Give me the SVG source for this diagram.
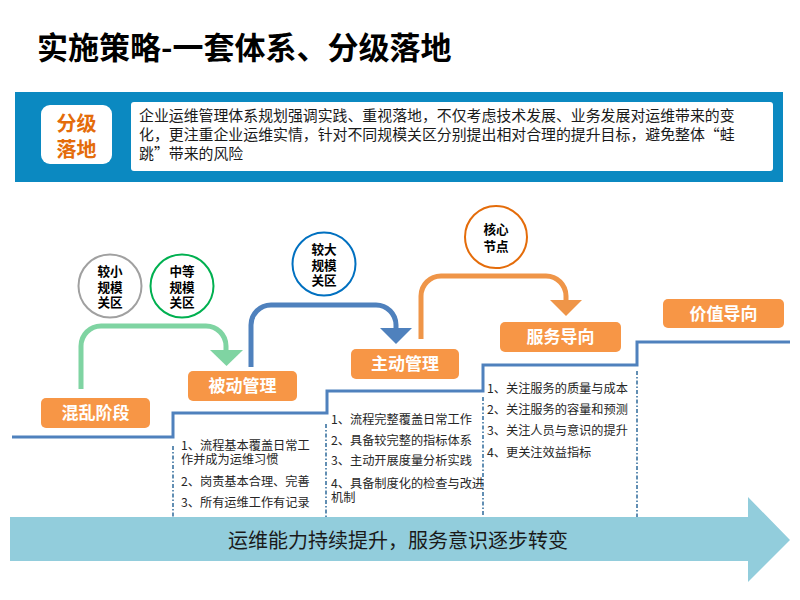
<svg xmlns="http://www.w3.org/2000/svg" width="800" height="600" viewBox="0 0 800 600">
<style>
text{font-family:"Noto Sans CJK SC","Microsoft YaHei",sans-serif}
.title{font-size:31px;font-weight:bold;fill:#000}
.desc{font-size:14.9px;fill:#1a1a1a}
.lbl{fill:#f79646}
.lt{font-size:17px;font-weight:bold;fill:#fff;text-anchor:middle}
.ct{font-size:12.6px;font-weight:bold;fill:#000;text-anchor:middle}
.li{font-size:12.2px;fill:#262626}
.dash{stroke:#2e6a9a;stroke-width:1.5;stroke-dasharray:4 2 1.5 2;fill:none}
</style>
<rect width="800" height="600" fill="#fff"/>
<text class="title" x="37" y="59">实施策略-一套体系、分级落地</text>

<g id="banner">
<rect x="15" y="92" width="768" height="90" fill="#0b89c1"/>
<rect x="41" y="105" width="71" height="59" rx="9" fill="#fff"/>
<text font-size="20" font-weight="bold" fill="#e46c0a" text-anchor="middle"><tspan x="76.5" y="131">分级</tspan><tspan x="76.5" y="157">落地</tspan></text>
<rect x="131" y="102" width="642" height="69" rx="3" fill="#fff"/>
<text class="desc"><tspan x="139" y="121">企业运维管理体系规划强调实践、重视落地，不仅考虑技术发展、业务发展对运维带来的变</tspan><tspan x="139" y="140">化，更注重企业运维实情，针对不同规模关区分别提出相对合理的提升目标，避免整体“蛙</tspan><tspan x="139" y="159">跳”带来的风险</tspan></text>
</g>

<g id="connectors">
<path d="M81,389 V346 A20,20 0 0 1 101,326 H206 A20,20 0 0 1 226,346 V351" fill="none" stroke="#7fd4a2" stroke-width="5"/>
<polygon points="210,350 243,350 226.5,366" fill="#7fd4a2"/>
<path d="M251,367 V325 A20,20 0 0 1 271,305 H376 A20,20 0 0 1 396,325 V329" fill="none" stroke="#4f81bd" stroke-width="5"/>
<polygon points="380,328 412,328 396,344" fill="#4f81bd"/>
<path d="M421,339 V296 A20,20 0 0 1 441,276 H546 A20,20 0 0 1 566,296 V301" fill="none" stroke="#ef9548" stroke-width="5"/>
<polygon points="550,300 582,300 566,316" fill="#ef9548"/>
<polyline points="12,437 173,437 173,413 327,413 327,391 483,391 483,365 637,365 637,342 790,342" fill="none" stroke="#4f81bd" stroke-width="3"/>
<line class="dash" x1="173" y1="446" x2="173" y2="518"/>
<line class="dash" x1="326" y1="424" x2="326" y2="518"/>
<line class="dash" x1="483" y1="397" x2="483" y2="518"/>
<line class="dash" x1="637" y1="371" x2="637" y2="518"/>
</g>

<g id="circle-small">
<circle cx="110" cy="286" r="31.5" fill="#fff" stroke="#a0a0a0" stroke-width="2"/>
<text class="ct"><tspan x="110" y="276">较小</tspan><tspan x="110" y="292">规模</tspan><tspan x="110" y="307">关区</tspan></text>
</g>
<g id="circle-mid">
<circle cx="182" cy="286" r="31.5" fill="#fff" stroke="#00b050" stroke-width="2"/>
<text class="ct"><tspan x="182" y="276">中等</tspan><tspan x="182" y="292">规模</tspan><tspan x="182" y="307">关区</tspan></text>
</g>
<g id="circle-large">
<circle cx="324" cy="264" r="31.5" fill="#fff" stroke="#0070c0" stroke-width="2"/>
<text class="ct"><tspan x="324" y="254">较大</tspan><tspan x="324" y="270">规模</tspan><tspan x="324" y="285">关区</tspan></text>
</g>
<g id="circle-core">
<circle cx="496" cy="237" r="31" fill="#fff" stroke="#e46c0a" stroke-width="2"/>
<text class="ct"><tspan x="496" y="234">核心</tspan><tspan x="496" y="251">节点</tspan></text>
</g>

<g id="stage1">
<rect class="lbl" x="41" y="398" width="109" height="30" rx="5"/>
<text class="lt" x="95.5" y="419">混乱阶段</text>
</g>
<g id="stage2">
<rect class="lbl" x="188" y="371" width="109" height="30" rx="5"/>
<text class="lt" x="242.5" y="392">被动管理</text>
<text class="li"><tspan x="181" y="450">1、流程基本覆盖日常工</tspan><tspan x="181" y="464">作并成为运维习惯</tspan></text>
<text class="li" x="181" y="486">2、岗责基本合理、完善</text>
<text class="li" x="181" y="507">3、所有运维工作有记录</text>
</g>
<g id="stage3">
<rect class="lbl" x="351" y="349" width="108" height="30" rx="5"/>
<text class="lt" x="405" y="370">主动管理</text>
<text class="li" x="331" y="424">1、流程完整覆盖日常工作</text>
<text class="li" x="331" y="445">2、具备较完整的指标体系</text>
<text class="li" x="331" y="465">3、主动开展度量分析实践</text>
<text class="li"><tspan x="331" y="488">4、具备制度化的检查与改进</tspan><tspan x="331" y="502">机制</tspan></text>
</g>
<g id="stage4">
<rect class="lbl" x="500" y="322" width="121" height="30" rx="5"/>
<text class="lt" x="560.5" y="343">服务导向</text>
<text class="li" x="487" y="393">1、关注服务的质量与成本</text>
<text class="li" x="487" y="414">2、关注服务的容量和预测</text>
<text class="li" x="487" y="435">3、关注人员与意识的提升</text>
<text class="li" x="487" y="457">4、更关注效益指标</text>
</g>
<g id="stage5">
<rect class="lbl" x="663" y="299" width="121" height="29" rx="5"/>
<text class="lt" x="723.5" y="320">价值导向</text>
</g>

<g id="bottom-arrow">
<polygon points="10,517 748,517 748,497 790,540 748,582 748,561 10,561" fill="#92cddc"/>
<text x="398" y="548" font-size="20" fill="#1a1a1a" text-anchor="middle">运维能力持续提升，服务意识逐步转变</text>
</g>
</svg>
